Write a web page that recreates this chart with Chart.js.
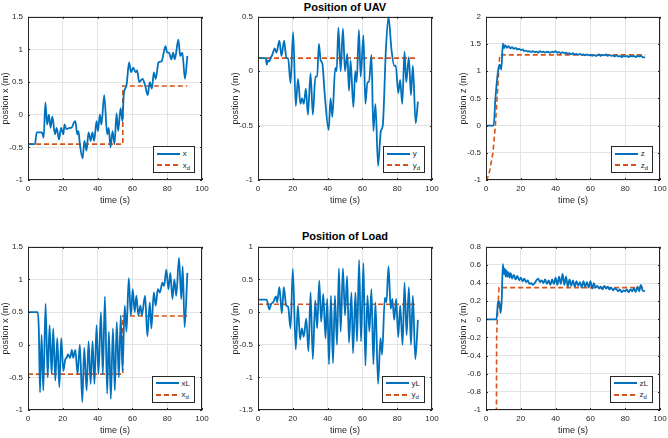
<!DOCTYPE html>
<html>
<head>
<meta charset="utf-8">
<script src="https://cdn.jsdelivr.net/npm/chart.js@4.4.1/dist/chart.umd.min.js"></script>
<style>
body { margin: 0; background: #fff; }
#fig { position: relative; width: 668px; height: 438px; overflow: hidden; font-family: "Liberation Sans", Arial, sans-serif; }
.panel { position: absolute; width: 214px; height: 199px; }
.panel canvas { position: absolute; left: 0; top: 0; }
.ttl { position: absolute; font-weight: bold; font-size: 11px; color: #000; transform: translate(-50%, -50%); white-space: nowrap; }
.leg { position: absolute; right: 19px; bottom: 33px; background: #fff; border: 1px solid #262626; font-size: 8px; color: #262626; padding: 1px 4px 1px 3px; }
.leg .row { height: 11.5px; display: flex; align-items: center; }
.leg svg { margin-right: 3px; }
.leg sub { font-size: 6px; vertical-align: -2px; line-height: 0; }
</style>
</head>
<body>
<div id="fig">
  <div class="ttl" style="left:345px;top:7px">Position of UAV</div>
  <div class="ttl" style="left:345px;top:236px">Position of Load</div>
</div>
<script>
const xTicks = [0, 20, 40, 60, 80, 100];
const xPosTicks = [-1, -0.5, 0, 0.5, 1, 1.5];
const yUavTicks = [-1, -0.5, 0, 0.5];
const zUavTicks = [-1, -0.5, 0, 0.5, 1, 1.5, 2];
const yLoadTicks = [-1.5, -1, -0.5, 0, 0.5, 1];
const zLoadTicks = [-1, -0.8, -0.6, -0.4, -0.2, 0, 0.2, 0.4, 0.6, 0.8];

// [time, value]
const uavX = [[0,-0.45],[4,-0.45],[5,-0.27],[8,-0.27],[9,-0.35],[10,0.19],[11,-0.15],[12,0.0],[13,-0.2],[14,-0.03],
  [15.5,-0.3],[16.5,-0.2],[17.8,-0.38],[19,-0.2],[20.3,-0.3],[21,-0.15],[22,-0.22],[24,-0.2],[25,-0.2],[26.4,-0.12],
  [27.2,-0.1],[28.3,-0.3],[29,-0.25],[29.8,-0.45],[31.4,-0.67],[32.4,-0.4],[33.6,-0.55],[34.8,-0.27],[36,-0.4],[37,-0.27],
  [38,-0.4],[39.4,-0.1],[40.2,-0.25],[41.3,0],[42.2,-0.15],[43.8,0.3],[45.5,-0.3],[46.4,-0.2],[47.4,-0.5],[48.6,-0.25],
  [49.7,-0.45],[50.9,0.02],[51.8,-0.25],[53.2,0.1],[54.3,-0.1],[55,0.3],[56.6,0.45],[58.1,0.8],[59.2,0.65],[60.4,0.72],
  [61.9,0.65],[62.7,0.68],[63.9,0.5],[65.8,0.55],[67.3,0.45],[68.8,0.3],[70,0.5],[71.2,0.4],[72.3,0.65],[73.4,0.55],
  [75,0.8],[76.8,0.82],[78,0.95],[79,1.05],[80,0.95],[81,0.95],[82.4,0.85],[83.4,0.95],[84.4,0.85],[86.4,1.15],
  [87.5,0.9],[88.7,0.95],[90.2,0.55],[91.6,0.9]];
const uavXd = [[0,-0.45],[54.5,-0.45],[54.5,0.44],[91.5,0.44]];

const uavY = [[0,0.12],[4.5,0.12],[5,0.06],[5.7,0.1],[6.5,0.09],[7.3,0.12],[8.2,0.15],[9.6,0.21],[10.6,0.17],[12.3,0.28],
  [13.5,0.14],[15,0.28],[16.3,0.12],[17.3,0.12],[18.7,-0.11],[20.2,0.36],[21.7,-0.32],[23,-0.07],[24.4,-0.3],[25.3,-0.25],
  [26.3,-0.3],[27.5,-0.16],[28.7,-0.4],[30.2,-0.02],[31.5,-0.4],[33,-0.05],[34,-0.05],[35,0.25],[36,0.1],[37,0.07],
  [38.3,-0.2],[40.6,-0.54],[41.7,-0.25],[42.7,-0.42],[44.4,0.03],[45.2,0],[46.2,0.4],[47.5,0],[48.8,0.39],[50,0],
  [51.3,0.16],[52.3,-0.18],[53.2,0.1],[54.8,-0.33],[55.9,0],[56.7,-0.1],[58,0.38],[59,-0.05],[60.6,0.33],[61.7,-0.3],
  [62.9,-0.1],[63.8,-0.1],[65.2,0.15],[66.3,-0.55],[67.5,-0.3],[69,-0.87],[70.6,-0.55],[71.7,-0.5],[73.5,0.2],[75,0.5],
  [76.7,0.2],[78.3,0.05],[79.2,0.05],[80.6,-0.2],[81.7,-0.08],[82.9,-0.3],[84.2,0.18],[85.2,-0.1],[86.7,0.13],[87.9,-0.22],
  [89,0.05],[90.6,-0.48],[91.9,-0.28]];
const uavYd = [[0,0.12],[91.5,0.12]];

const uavZ = [[0,0],[4.4,0],[5.4,0.49],[6.9,1.0],[7.9,1.12],[8.8,1.03],[9.7,1.51],[10.3,1.42],[11,1.48],[12,1.43],
  [13,1.46],[14,1.42],[15,1.44],[16,1.41],[17,1.43],[18,1.40],[19,1.41],[20,1.39],[21,1.40],[22,1.37],
  [23,1.38],[24,1.36],[25,1.37],[26,1.35],[27,1.37],[28,1.35],[29,1.36],[30,1.34],[31,1.37],[32,1.35],
  [33,1.36],[34,1.34],[35,1.36],[36,1.35],[37,1.34],[38,1.36],[39,1.35],[40,1.37],[41,1.34],[42,1.35],
  [43,1.33],[44,1.35],[45,1.33],[46,1.34],[47,1.32],[48,1.33],[49,1.31],[50,1.33],[51,1.31],[52,1.32],
  [53,1.30],[54,1.32],[55,1.30],[56,1.31],[57,1.29],[58,1.31],[59,1.29],[60,1.30],[61,1.28],[62,1.30],
  [63,1.28],[64,1.29],[65,1.31],[66,1.28],[67,1.30],[68,1.29],[69,1.31],[70,1.28],[71,1.30],[72,1.28],
  [73,1.29],[74,1.27],[75,1.29],[76,1.27],[77,1.28],[78,1.26],[79,1.28],[80,1.27],[81,1.28],[82,1.26],
  [83,1.28],[84,1.27],[85,1.28],[86,1.26],[87,1.28],[88,1.27],[89,1.28],[90,1.26],[91.4,1.25]];
const uavZd = [[0,-1],[0.5,-1],[2,-0.85],[4,-0.5],[5.4,0],[7.9,1.3],[91.5,1.3]];

const loadX = [[0,0.5],[5.5,0.5],[6.2,0.25],[6.9,-0.73],[7.8,0.15],[8.8,-0.7],[10.1,0.63],[11.3,-0.5],[12.4,0.3],[13.6,-0.45],
  [14.5,0.25],[15.7,-0.55],[16.8,0.1],[18,-0.65],[19.1,0.1],[20.3,-0.4],[21.4,-0.23],[22.2,-0.2],[23,-0.15],[24.2,-0.2],
  [25.2,-0.08],[26,-0.2],[27.2,-0.08],[28.5,-0.45],[29.8,0],[31.2,-0.88],[32.3,-0.05],[33.7,-0.7],[34.8,0.05],[36,-0.6],
  [37.1,0.05],[38.2,-0.6],[39.4,0.3],[40.5,-0.45],[41.9,0.5],[43,-0.45],[44.2,0.74],[45.5,-0.75],[46.5,0.2],[47.6,-0.83],
  [48.8,0.25],[49.9,-0.7],[51,0.35],[52.2,-0.5],[53.3,0.45],[54.3,-0.4],[55.6,0.6],[56.6,0.2],[57.9,1.02],[59.1,0.45],
  [60.2,0.85],[61.3,0.5],[62.3,0.75],[63.4,0.45],[64.6,0.6],[65.4,0.45],[67.3,0.75],[68.6,0.13],[70,0.65],[70.9,0.25],
  [72.3,0.8],[73.4,0.6],[74.6,0.85],[75.8,0.8],[77.2,0.95],[78.2,0.9],[79.5,1.15],[80.7,0.85],[81.8,1.1],[83,0.7],
  [84.1,1.0],[85.2,0.75],[86.8,1.33],[88.1,0.7],[88.9,1.2],[90,0.27],[91.6,1.1]];

const loadY = [[0,0.19],[5,0.19],[6.5,0.04],[7.5,0.12],[8.7,0.15],[10.4,0.24],[11,0.15],[12.3,0.38],[13.7,-0.02],[14.8,0.38],
  [16.2,0.1],[17.3,0.08],[18.7,-0.25],[20,0.66],[21.7,-0.57],[22.9,0.1],[24.2,-0.42],[25.2,-0.25],[26.3,-0.38],[27.7,-0.1],
  [29,-0.6],[30.2,0.3],[31.5,-0.72],[32.9,0.18],[34,-0.25],[35.2,0.48],[36.3,-0.15],[37.5,0.28],[38.8,-0.4],[39.8,0.2],
  [40.8,-0.8],[41.9,0.25],[43.1,-0.78],[44.2,0.25],[45.4,-0.5],[46.5,0.67],[47.5,-0.3],[48.8,0.67],[50,-0.05],[51.2,0.55],
  [52.3,-0.47],[53.7,0.3],[54.6,-0.63],[56,0.3],[56.9,-0.45],[58.1,0.8],[59.2,-0.45],[60.6,0.75],[61.7,-0.82],[62.9,0.25],
  [64,-0.3],[65.2,0.35],[66.3,-0.8],[67.5,0.15],[69,-1.1],[70.4,-0.4],[71.3,-0.65],[72.9,0.22],[73.8,0.15],[75,0.7],
  [76.3,0.05],[77.2,0.2],[78.3,-0.12],[79.4,0.2],[80.6,-0.38],[81.7,0.1],[83.1,-0.5],[84.2,0.45],[85.4,-0.35],[86.7,0.38],
  [87.9,-0.5],[89,0.25],[90.4,-0.72],[91.9,-0.12]];

const loadZ = [[0,0],[6,0],[6.9,0.19],[7.6,0.2],[8.4,0.07],[9,0.2],[9.7,0.61],[10.3,0.5],[10.8,0.56],[11.3,0.47],
  [11.8,0.54],[12.4,0.47],[13,0.52],[13.6,0.46],[14.2,0.51],[15,0.45],[16,0.49],[17,0.44],[18,0.48],[19,0.43],
  [20,0.46],[21,0.42],[22,0.45],[23,0.41],[24,0.43],[25,0.39],[26,0.40],[27,0.38],[28,0.40],[29,0.43],
  [30,0.45],[31,0.41],[32,0.43],[33,0.40],[34,0.44],[35,0.39],[36,0.43],[37,0.38],[38,0.44],[39,0.39],
  [40,0.46],[41,0.38],[42,0.47],[43,0.39],[44,0.50],[45,0.38],[46,0.47],[47,0.36],[48,0.44],[49,0.37],
  [50,0.43],[51,0.36],[52,0.42],[53,0.37],[54,0.41],[55,0.35],[56,0.42],[57,0.36],[58,0.41],[59,0.35],
  [60,0.42],[61,0.34],[62,0.40],[63,0.35],[64,0.37],[65,0.34],[66,0.36],[67,0.33],[68,0.37],[69,0.34],
  [70,0.36],[71,0.33],[72,0.35],[73,0.32],[74,0.34],[75,0.33],[76,0.31],[77,0.33],[78,0.30],[79,0.32],
  [80,0.31],[81,0.33],[82,0.30],[83,0.33],[84,0.31],[85,0.34],[86,0.30],[87,0.36],[88,0.31],[89,0.38],
  [90,0.32],[91.4,0.31]];
const loadZd = [[0,-1],[6,-1],[6.1,-0.2],[6.5,0],[7.5,0.35],[91.5,0.35]];

const BLUE = '#0072BD';
const ORANGE = '#D95319';
const INK = '#262626';

// MATLAB style box with inward ticks
const matlabBox = {
    id: 'matlabBox',
    afterDatasetsDraw(chart) {
        const { ctx, chartArea: a, scales: { x, y } } = chart;
        ctx.save();
        ctx.strokeStyle = INK;
        ctx.lineWidth = 1;
        ctx.beginPath();
        x.ticks.forEach(t => {
            const px = Math.round(x.getPixelForValue(t.value)) + 0.5;
            ctx.moveTo(px, a.bottom); ctx.lineTo(px, a.bottom - 2);
            ctx.moveTo(px, a.top); ctx.lineTo(px, a.top + 2);
        });
        y.ticks.forEach(t => {
            const py = Math.round(y.getPixelForValue(t.value)) + 0.5;
            ctx.moveTo(a.left, py); ctx.lineTo(a.left + 2, py);
            ctx.moveTo(a.right, py); ctx.lineTo(a.right - 2, py);
        });
        ctx.stroke();
        ctx.strokeRect(Math.round(a.left) + 0.5, Math.round(a.top) + 0.5, Math.round(a.width) - 1, Math.round(a.height) - 1);
        ctx.restore();
    }
};

function toPoints(pairs) {
    return pairs.map(p => ({ x: p[0], y: p[1] }));
}

function tickText(value) {
    return String(parseFloat(Number(value).toFixed(2)));
}

function buildPanel(left, top, yLabel, yTicks, actual, desired, names) {
    const fig = document.getElementById('fig');
    const panel = document.createElement('div');
    panel.className = 'panel';
    panel.style.left = (left - 28) + 'px';
    panel.style.top = (top - 8) + 'px';
    const canvas = document.createElement('canvas');
    canvas.width = 214;
    canvas.height = 199;
    panel.appendChild(canvas);

    const leg = document.createElement('div');
    leg.className = 'leg';
    leg.innerHTML =
        '<div class="row"><svg width="23" height="4"><line x1="0" y1="2" x2="23" y2="2" stroke="' + BLUE + '" stroke-width="2"/></svg><span>' + names[0] + '</span></div>' +
        '<div class="row"><svg width="23" height="4"><line x1="0" y1="2" x2="23" y2="2" stroke="' + ORANGE + '" stroke-width="2" stroke-dasharray="5,3"/></svg><span>' + names[1] + '</span></div>';
    panel.appendChild(leg);
    fig.appendChild(panel);

    return new Chart(canvas, {
        type: 'line',
        data: {
            datasets: [
                {
                    data: toPoints(actual),
                    borderColor: BLUE,
                    borderWidth: 1.8,
                    pointRadius: 0,
                    cubicInterpolationMode: 'monotone',
                    fill: false
                },
                {
                    data: toPoints(desired),
                    borderColor: ORANGE,
                    borderWidth: 1.6,
                    borderDash: [5, 3],
                    pointRadius: 0,
                    tension: 0,
                    fill: false
                }
            ]
        },
        options: {
            responsive: false,
            animation: false,
            layout: { padding: { top: 8, right: 12, left: 0, bottom: 0 } },
            plugins: { legend: { display: false }, tooltip: { enabled: false } },
            scales: {
                x: {
                    type: 'linear',
                    min: 0,
                    max: 100,
                    afterBuildTicks: s => { s.ticks = xTicks.map(v => ({ value: v })); },
                    afterFit: s => { s.height = 26; },
                    ticks: { font: { family: 'Liberation Sans', size: 8 }, color: INK, padding: 4, maxRotation: 0, callback: tickText },
                    grid: { color: '#e3e3e3', drawTicks: false },
                    border: { display: false },
                    title: { display: true, text: 'time (s)', font: { family: 'Liberation Sans', size: 9 }, color: INK, padding: 0 }
                },
                y: {
                    type: 'linear',
                    min: yTicks[0],
                    max: yTicks[yTicks.length - 1],
                    afterBuildTicks: s => { s.ticks = yTicks.map(v => ({ value: v })); },
                    afterFit: s => { s.width = 28; },
                    ticks: { font: { family: 'Liberation Sans', size: 8 }, color: INK, padding: 5, callback: tickText },
                    grid: { color: '#e3e3e3', drawTicks: false },
                    border: { display: false },
                    title: { display: true, text: yLabel, font: { family: 'Liberation Sans', size: 9 }, color: INK, padding: 0 }
                }
            }
        },
        plugins: [matlabBox]
    });
}

buildPanel(28, 15, 'postion x (m)', xPosTicks, uavX, uavXd, ['x', 'x<sub>d</sub>']);
buildPanel(258, 15, 'postion y (m)', yUavTicks, uavY, uavYd, ['y', 'y<sub>d</sub>']);
buildPanel(486, 15, 'postion z (m)', zUavTicks, uavZ, uavZd, ['z', 'z<sub>d</sub>']);
buildPanel(28, 244.5, 'postion x (m)', xPosTicks, loadX, uavXd, ['xL', 'x<sub>d</sub>']);
buildPanel(258, 244.5, 'postion y (m)', yLoadTicks, loadY, uavYd, ['yL', 'y<sub>d</sub>']);
buildPanel(486, 244.5, 'postion z (m)', zLoadTicks, loadZ, loadZd, ['zL', 'z<sub>d</sub>']);
</script>
</body>
</html>
